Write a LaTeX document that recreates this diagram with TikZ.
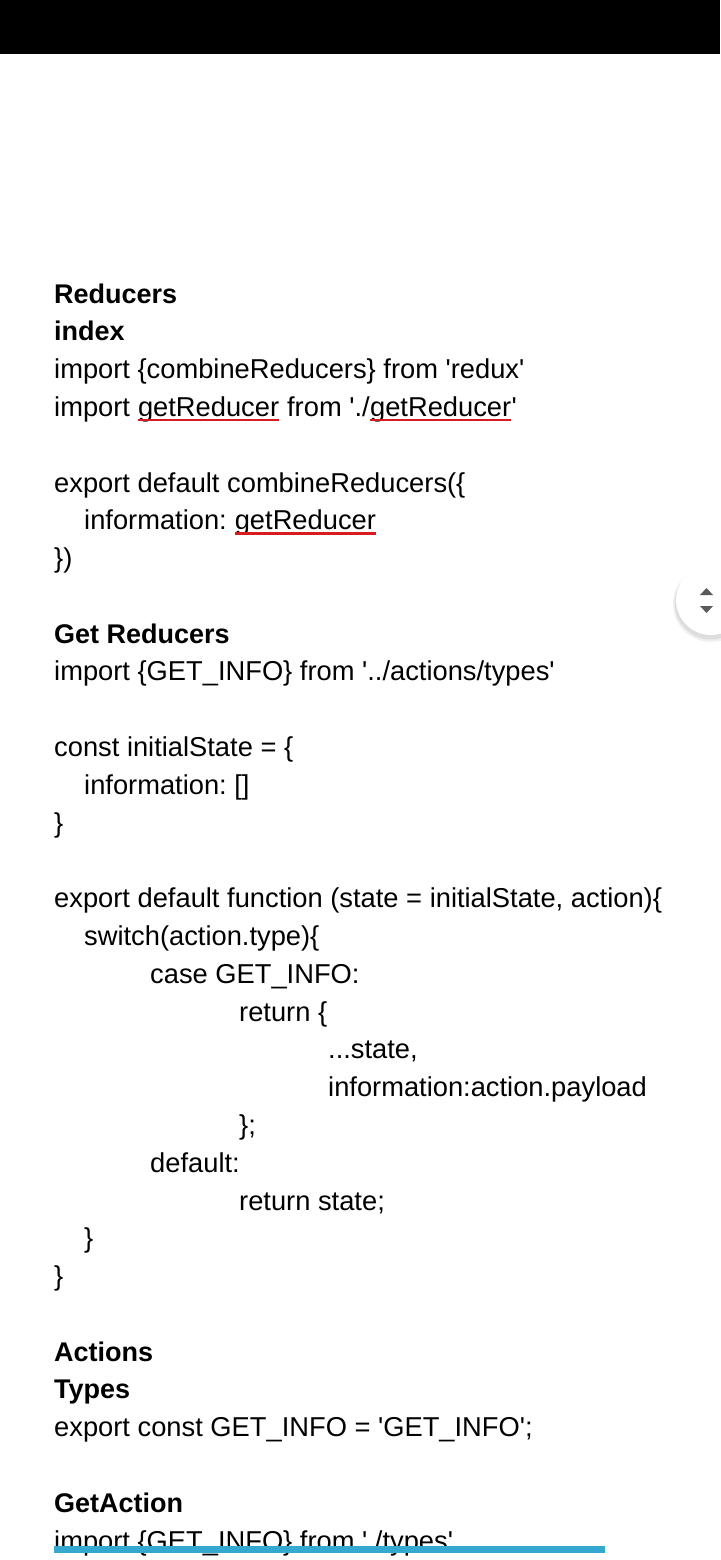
\documentclass[tikz,border=0pt]{standalone}
\usepackage{fontspec}
\usepackage{xcolor}
\usepackage{tikz}
\newfontfamily\codefont{Liberation Sans}[Ligatures=TeXOff]
\newcommand\gapsp{\hbox{\ }}
\definecolor{spellred}{RGB}{214,28,32}
\definecolor{selblue}{RGB}{52,168,206}
\definecolor{arrowgray}{RGB}{90,90,90}
\tikzstyle{line}=[anchor=base west, inner sep=0, font=\codefont\frenchspacing\fontsize{27.3}{32}\selectfont]
\tikzstyle{head}=[line, font=\codefont\frenchspacing\bfseries\fontsize{27}{32}\selectfont]
\tikzstyle{spell edge}=[-, draw=spellred, line width=2.6pt]
\pgfdeclarelayer{nodelayer}
\pgfdeclarelayer{edgelayer}
\pgfsetlayers{main,nodelayer,edgelayer}

\begin{document}
\begin{tikzpicture}[x=1pt, y=-1pt]
    	\useasboundingbox (0, 0) rectangle (720, 1560);
    	\fill [white] (0, 0) rectangle (720, 1560);
    	\fill [black] (0, 0) rectangle (720, 54);
    	\begin{pgfonlayer}{nodelayer}
    		\node [style=head] (0) at (54, 303.0) {Reducers};
    		\node [style=head] (1) at (54, 340.8) {index};
    		\node [style=line] (2) at (54, 378.6) {import \{combineReducers\} from 'redux'};
    		\node [style=line] (3) at (54, 416.4) {import\gapsp};
    		\node [style=line] (3a) at (3.base east) {getReducer};
    		\node [style=line] (3b) at (3a.base east) {\gapsp from './};
    		\node [style=line] (3c) at (3b.base east) {getReducer};
    		\node [style=line] (3d) at (3c.base east) {'};
    		\node [style=line] (4) at (54, 492.0) {export default combineReducers(\{};
    		\node [style=line] (5) at (84, 529.7) {information:\gapsp};
    		\node [style=line] (5a) at (5.base east) {getReducer};
    		\node [style=line] (6) at (54, 567.5) {\})};
    		\node [style=head] (7) at (54, 643.1) {Get Reducers};
    		\node [style=line] (8) at (54, 680.9) {import \{GET\_INFO\} from '../actions/types'};
    		\node [style=line] (9) at (54, 756.5) {const initialState = \{};
    		\node [style=line] (10) at (84, 794.3) {information: []};
    		\node [style=line] (11) at (54, 832.1) {\}};
    		\node [style=line] (12) at (54, 907.6) {export default function (state = initialState, action)\{};
    		\node [style=line] (13) at (84, 945.4) {switch(action.type)\{};
    		\node [style=line] (14) at (150, 983.2) {case GET\_INFO:};
    		\node [style=line] (15) at (239, 1021.0) {return \{};
    		\node [style=line] (16) at (328, 1058.8) {...state,};
    		\node [style=line] (17) at (328, 1096.6) {information:action.payload};
    		\node [style=line] (18) at (239, 1134.4) {\};};
    		\node [style=line] (19) at (150, 1172.2) {default:};
    		\node [style=line] (20) at (239, 1210.0) {return state;};
    		\node [style=line] (21) at (84, 1247.8) {\}};
    		\node [style=line] (22) at (54, 1285.5) {\}};
    		\node [style=head] (23) at (54, 1361.1) {Actions};
    		\node [style=head] (24) at (54, 1398.9) {Types};
    		\node [style=line] (25) at (54, 1436.7) {export const GET\_INFO = 'GET\_INFO';};
    		\node [style=head] (26) at (54, 1512.3) {GetAction};
    		\node [style=line] (27) at (54, 1550.1) {import \{GET\_INFO\} from './types'};
    	\end{pgfonlayer}
    	\begin{pgfonlayer}{edgelayer}
    		\draw [style=spell edge] ([yshift=-3.5pt]3a.base west) to ([yshift=-3.5pt]3a.base east);
    		\draw [style=spell edge] ([yshift=-3.5pt]3c.base west) to ([yshift=-3.5pt]3c.base east);
    		\draw [style=spell edge] ([yshift=-3.5pt]5a.base west) to ([yshift=-3.5pt]5a.base east);
    		\fill [selblue] (54, 1546) rectangle (605, 1553);
    		% scroll button
    		\fill [black, opacity=0.06] (711, 604) circle (38);
    		\fill [black, opacity=0.08] (711, 603) circle (36.5);
    		\fill [white] (711, 600) circle (35);
    		\fill [arrowgray] (700, 595) -- (713, 595) -- (706.5, 588) -- cycle;
    		\fill [arrowgray] (700, 606) -- (713, 606) -- (706.5, 613) -- cycle;
    	\end{pgfonlayer}
    \end{tikzpicture}
\end{document}
